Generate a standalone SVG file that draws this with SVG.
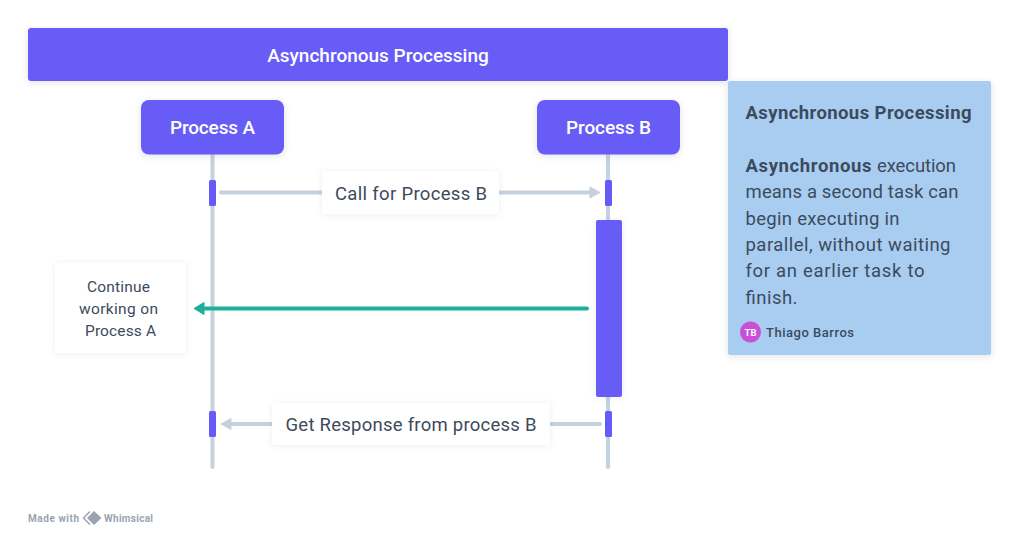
<svg xmlns="http://www.w3.org/2000/svg" width="1020" height="539" viewBox="0 0 1020 539">
<defs>
<filter id="sh" x="-20%" y="-20%" width="140%" height="150%"><feDropShadow dx="0" dy="1.500" stdDeviation="3" flood-color="#2c3e50" flood-opacity="0.14"/></filter>
<filter id="shl" x="-20%" y="-20%" width="140%" height="140%"><feDropShadow dx="0" dy="1" stdDeviation="3.500" flood-color="#2c3e50" flood-opacity="0.07"/></filter>
</defs>
<style>
text{font-family:Roboto,"Liberation Sans",sans-serif}
.p{fill:#675bf7}
.w{fill:#fff;font-weight:500;text-anchor:middle}
.l{fill:#3d4a5c;font-size:18.500px;text-anchor:middle}
.c{fill:#3d4a5c;font-size:15.500px;text-anchor:middle}
.b{fill:#fff;filter:url(#shl)}
.n{fill:#3a4b5e;font-size:18.500px}
.life{stroke:#c5d1dc;stroke-width:4;stroke-linecap:round;fill:none}
.arr{stroke:#c5d1dc;stroke-width:4;stroke-linecap:round;fill:none}
</style>
<rect width="1020" height="539" fill="#fff"/>
<g id="connectors">
<line class="life" x1="212.500" y1="154" x2="212.500" y2="467"/>
<line class="life" x1="608" y1="154" x2="608" y2="467"/>
<line class="arr" x1="221" y1="192.500" x2="322" y2="192.500"/>
<line class="arr" x1="499" y1="192.500" x2="592" y2="192.500"/>
<polygon points="590,187 600,192.500 590,198" fill="#c5d1dc" stroke="#c5d1dc" stroke-width="1" stroke-linejoin="round"/>
<line class="arr" x1="550" y1="424" x2="600" y2="424"/>
<line class="arr" x1="232" y1="424" x2="272" y2="424"/>
<polygon points="231,418.500 221,424 231,429.500" fill="#c5d1dc" stroke="#c5d1dc" stroke-width="1" stroke-linejoin="round"/>
<line x1="203" y1="308.500" x2="587" y2="308.500" stroke="#1eaf9b" stroke-width="4" stroke-linecap="round"/>
<polygon points="204,302.500 194,308.500 204,314.500" fill="#1eaf9b" stroke="#1eaf9b" stroke-width="1" stroke-linejoin="round"/>
</g>
<g id="title"><rect class="p" x="28" y="28" width="700" height="53" rx="3" filter="url(#sh)"/><text class="w" x="378" y="61.500" font-size="19">Asynchronous Processing</text></g>
<g id="process-a"><rect class="p" x="141" y="100" width="143" height="54.500" rx="8" filter="url(#sh)"/><text class="w" x="212.500" y="134" font-size="19" textLength="85">Process A</text></g>
<g id="process-b"><rect class="p" x="537" y="100" width="143" height="54.500" rx="8" filter="url(#sh)"/><text class="w" x="608.500" y="134" font-size="19" textLength="85">Process B</text></g>
<g id="act-a1"><rect class="p" x="209" y="180" width="7" height="26" rx="1.500"/></g>
<g id="act-b1"><rect class="p" x="605" y="180" width="7" height="26" rx="1.500"/></g>
<g id="act-b2"><rect class="p" x="596" y="220" width="26" height="177" rx="2" filter="url(#shl)"/></g>
<g id="act-a2"><rect class="p" x="209" y="411" width="7" height="26" rx="1.500"/></g>
<g id="act-b3"><rect class="p" x="605" y="411" width="7" height="26" rx="1.500"/></g>
<g id="label-call"><rect class="b" x="322" y="171" width="177" height="43" rx="3"/><text class="l" x="411" y="200" textLength="152">Call for Process B</text></g>
<g id="label-response"><rect class="b" x="272" y="403" width="278" height="42" rx="3"/><text class="l" x="411" y="431" textLength="251">Get Response from process B</text></g>
<g id="label-continue"><rect class="b" x="55" y="263" width="131" height="90" rx="3"/><text class="c" x="118.500" y="292" textLength="63">Continue</text><text class="c" x="118.500" y="314" textLength="79">working on</text><text class="c" x="120.500" y="336" textLength="71">Process A</text></g>
<g id="note"><rect x="728" y="81" width="263" height="274" rx="2" fill="#a9cdf0" filter="url(#sh)"/>
<text class="n" x="745.500" y="119" font-weight="700" textLength="226">Asynchronous Processing</text>
<text class="n" x="745.500" y="172" font-weight="700" textLength="126">Asynchronous</text>
<text class="n" x="877" y="172" textLength="79">execution</text>
<text class="n" x="745.500" y="198" textLength="213">means a second task can</text>
<text class="n" x="745.500" y="225" textLength="154">begin executing in</text>
<text class="n" x="745.500" y="251" textLength="205">parallel, without waiting</text>
<text class="n" x="745.500" y="277" textLength="179">for an earlier task to</text>
<text class="n" x="745.500" y="304" textLength="52">finish.</text>
<circle cx="750.500" cy="332" r="10.500" fill="#c94fd8"/>
<text x="750.500" y="335.500" fill="#fff" font-size="9.500" font-weight="700" text-anchor="middle">TB</text>
<text x="766" y="337" fill="#3a4b5e" font-size="13" font-weight="500" textLength="88">Thiago Barros</text></g>
<g id="watermark" fill="#9aa3af"><text x="28" y="522" font-size="10" font-weight="700" fill="#9aa3af" textLength="51">Made with</text>
<path d="M90 511.500l-6.500 6.500 6.500 6.500" fill="none" stroke="#9aa3af" stroke-width="1.500"/>
<polygon points="94,511 101.500,518 94,525 87,518"/>
<text x="104" y="522" font-size="10" font-weight="700" fill="#9aa3af" textLength="49">Whimsical</text></g>
</svg>
